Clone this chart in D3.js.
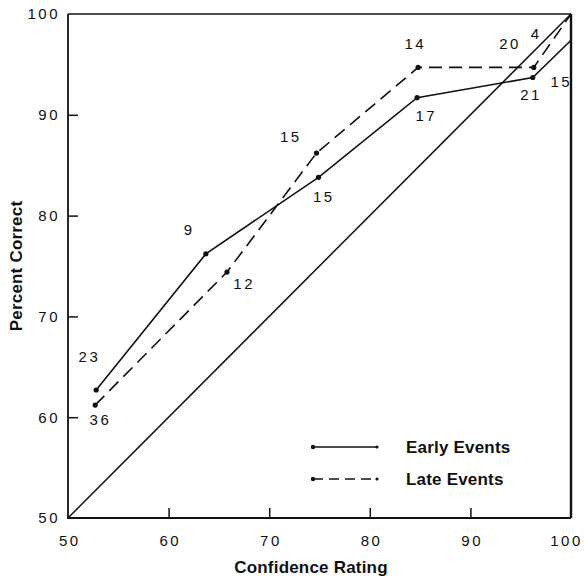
<!DOCTYPE html>
<html>
<head>
<meta charset="utf-8">
<script src="https://cdn.jsdelivr.net/npm/d3@7"></script>
<style>
  body { margin: 0; background: #fff; }
  svg { display: block; }
  .tick text { font-family: "Liberation Sans", Arial, sans-serif; font-size: 15px; letter-spacing: 2.5px; fill: #111; }
  .ttl { font-family: "Liberation Sans", Arial, sans-serif; font-size: 17px; font-weight: bold; letter-spacing: 0.2px; fill: #111; }
  .nlab { font-family: "Liberation Sans", Arial, sans-serif; font-size: 15px; letter-spacing: 2.5px; fill: #111; }
</style>
</head>
<body>
<svg id="chart" width="584" height="576"></svg>
<script>
// x-axis ticks / y-axis ticks
var xTicks = [50, 60, 70, 80, 90, 100];
var yTicks = [50, 60, 70, 80, 90, 100];

// early events (solid)
var earlyConf = [52.8, 63.7, 74.9, 84.7, 96.2, 100];
var earlyPct = [62.7, 76.2, 83.8, 91.7, 93.7, 97.4];
var earlyN = ['23', '9', '15', '17', '21', '15'];

// late events (dashed)
var lateConf = [52.7, 65.8, 74.7, 84.8, 96.3, 100];
var latePct = [61.2, 74.4, 86.2, 94.7, 94.7, 100];
var lateN = ['36', '12', '15', '14', '20', '4'];

// label offsets in px from their point
var earlyOff = [[-8, -33], [-18, -24], [4, 19], [8, 18], [-3, 17], [-11, 41]];
var lateOff = [[4, 14], [16, 11], [-27, -17], [-4, -24], [-25, -24], [-36, 19]];

var svg = d3.select('#chart');
var pLeft = 68, pRight = 571, pTop = 14, pBottom = 518;
var ls = 2.5;  // letter spacing of the numbers

var x = d3.scaleLinear().domain([50, 100]).range([pLeft, pRight]);
var y = d3.scaleLinear().domain([50, 100]).range([pBottom, pTop]);

function inner(v) { return v > 50 && v < 100; }

// bottom axis, ticks point inward
var xAxis = svg.append('g')
  .attr('transform', 'translate(0,' + pBottom + ')')
  .call(d3.axisBottom(x).tickValues(xTicks).tickSize(0).tickPadding(17).tickFormat(d3.format('d')));
xAxis.select('.domain').remove();
xAxis.selectAll('.tick text').attr('dx', function (d) { return d === 100 ? -5 : ls / 2; });
xAxis.selectAll('.tick line').filter(function (d) { return inner(d); })
  .attr('y2', -10).attr('stroke', '#111').attr('stroke-width', 1.5);

var yAxis = svg.append('g')
  .attr('transform', 'translate(' + pLeft + ',0)')
  .call(d3.axisLeft(y).tickValues(yTicks).tickSize(0).tickPadding(8).tickFormat(d3.format('d')));
yAxis.select('.domain').remove();
yAxis.selectAll('.tick line').filter(function (d) { return inner(d); })
  .attr('x2', 10).attr('stroke', '#111').attr('stroke-width', 1.5);

// frame
svg.append('path')
  .attr('d', 'M' + pLeft + ',' + pTop + 'V' + pBottom + 'H' + pRight)
  .attr('fill', 'none').attr('stroke', '#111').attr('stroke-width', 1.8);
svg.append('path')
  .attr('d', 'M' + pLeft + ',' + pTop + 'H' + pRight)
  .attr('fill', 'none').attr('stroke', '#111').attr('stroke-width', 1.5);
svg.append('path')
  .attr('d', 'M' + pRight + ',' + pTop + 'V' + pBottom)
  .attr('fill', 'none').attr('stroke', '#111').attr('stroke-width', 2.4);

// perfect calibration diagonal
svg.append('line')
  .attr('x1', x(50)).attr('y1', y(50)).attr('x2', x(100)).attr('y2', y(100))
  .attr('stroke', '#111').attr('stroke-width', 1.5);

var line = d3.line().x(function (d) { return x(d[0]); }).y(function (d) { return y(d[1]); });

function drawSeries(cx, cy, labels, offs, dash) {
  var pts = d3.zip(cx, cy);
  svg.append('path')
    .datum(pts)
    .attr('d', line)
    .attr('fill', 'none')
    .attr('stroke', '#111')
    .attr('stroke-width', 1.6)
    .attr('stroke-dasharray', dash);

  svg.append('g').selectAll('circle')
    .data(pts.slice(0, pts.length - 1))
    .enter().append('circle')
    .attr('cx', function (d) { return x(d[0]); })
    .attr('cy', function (d) { return y(d[1]); })
    .attr('r', 2.6)
    .attr('fill', '#111');

  svg.append('g').selectAll('text')
    .data(pts)
    .enter().append('text')
    .attr('class', 'nlab')
    .attr('x', function (d, i) { return x(d[0]) + offs[i][0] + ls / 2; })
    .attr('y', function (d, i) { return y(d[1]) + offs[i][1]; })
    .attr('text-anchor', 'middle')
    .attr('dominant-baseline', 'central')
    .text(function (d, i) { return labels[i]; });
}

drawSeries(earlyConf, earlyPct, earlyN, earlyOff, null);
drawSeries(lateConf, latePct, lateN, lateOff, '13,7');

// legend
var legend = [
  { name: 'Early Events', dash: null, y: 447 },
  { name: 'Late Events', dash: '10,6', y: 479 }
];
var lg = svg.append('g').selectAll('g').data(legend).enter().append('g');
lg.append('line')
  .attr('x1', 313).attr('x2', 377)
  .attr('y1', function (d) { return d.y; }).attr('y2', function (d) { return d.y; })
  .attr('stroke', '#111').attr('stroke-width', 1.6)
  .attr('stroke-dasharray', function (d) { return d.dash; });
lg.selectAll('circle')
  .data(function (d) { return [[313, d.y, 2.2], [377, d.y, 1.6]]; })
  .enter().append('circle')
  .attr('cx', function (c) { return c[0]; }).attr('cy', function (c) { return c[1]; })
  .attr('r', function (c) { return c[2]; }).attr('fill', '#111');
lg.append('text')
  .attr('class', 'ttl')
  .attr('x', 406).attr('y', function (d) { return d.y; })
  .attr('dominant-baseline', 'central')
  .text(function (d) { return d.name; });

// axis titles
svg.append('text')
  .attr('class', 'ttl')
  .attr('x', 311).attr('y', 573)
  .attr('text-anchor', 'middle')
  .text('Confidence Rating');

svg.append('text')
  .attr('class', 'ttl')
  .attr('transform', 'translate(22,' + ((pTop + pBottom) / 2) + ') rotate(-90)')
  .attr('text-anchor', 'middle')
  .text('Percent Correct');
</script>
</body>
</html>
